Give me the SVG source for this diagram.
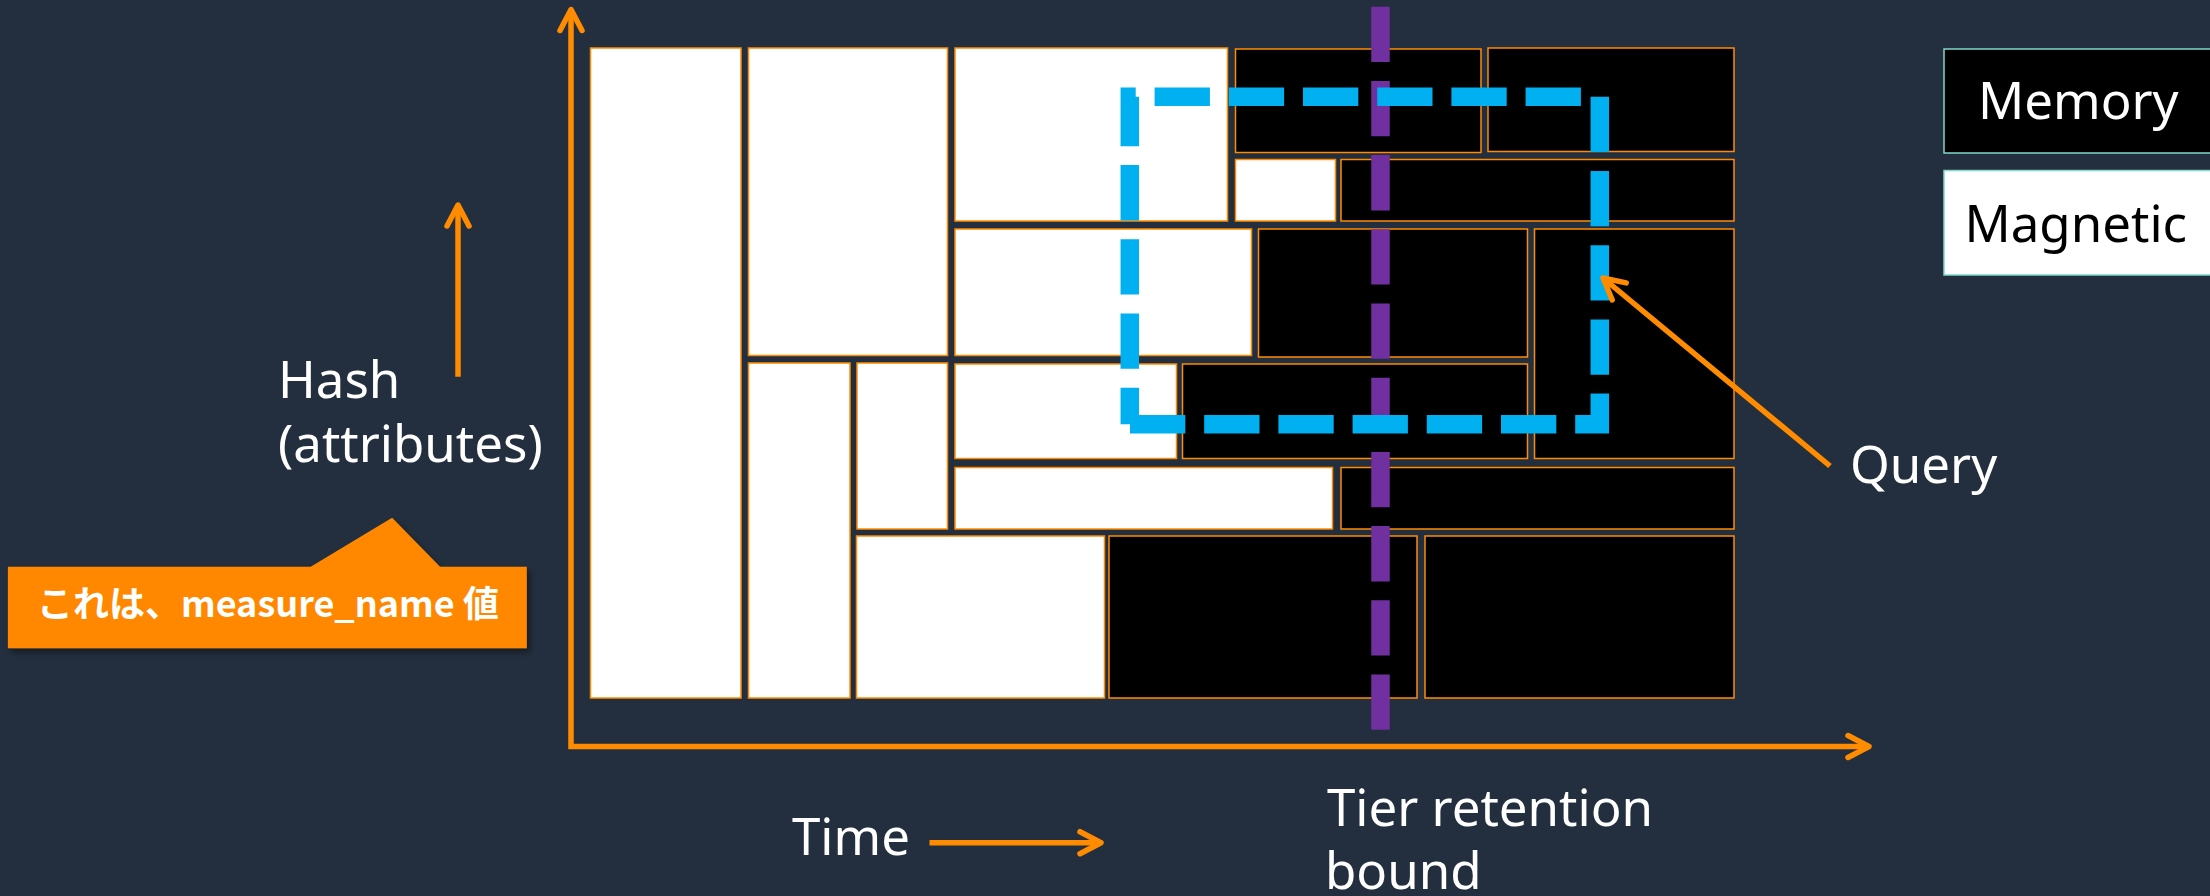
<svg xmlns="http://www.w3.org/2000/svg" width="2210" height="896" viewBox="0 0 2210 896">
  <defs>
    <style>
      .mag { fill: #FFFFFF; stroke: #FF8C00; stroke-width: 1.5; }
      .mem { fill: #000000; stroke: #FF8C00; stroke-width: 1.5; }
      .lbl { font-family: "Noto Sans", "Open Sans", sans-serif; font-size: 51px; fill: #FFFFFF; }
      .ax { fill: none; stroke: #FF8C00; stroke-width: 5.5; }
      .dash { fill: none; stroke-width: 18.5; stroke-dasharray: 55.3 18.9; stroke-linecap: butt; stroke-linejoin: miter; }
      .legend { stroke: #7FD8C9; stroke-width: 1.5; }
    </style>
    <marker id="chev" markerUnits="userSpaceOnUse" viewBox="-30 -20 40 40" markerWidth="40" markerHeight="40" refX="0" refY="0" orient="auto-start-reverse" overflow="visible">
      <path d="M-21,-11 L0,0 L-21,11" fill="none" stroke="#FF8C00" stroke-width="5.5" stroke-linecap="round" stroke-linejoin="round"/>
    </marker>
    <filter id="shadow" x="-5%" y="-10%" width="115%" height="130%">
      <feDropShadow dx="3" dy="4" stdDeviation="3" flood-color="#000000" flood-opacity="0.45"/>
    </filter>
  </defs>

  <rect x="0" y="0" width="2210" height="896" fill="#232F3E"/>

  <g id="blocks">
    <rect class="mag" x="590.5" y="48" width="150.5" height="650"/>
    <rect class="mag" x="748.5" y="48" width="199" height="307.5"/>
    <rect class="mag" x="955" y="48" width="272.5" height="173"/>
    <rect class="mag" x="955" y="229" width="296.5" height="126.5"/>
    <rect class="mag" x="748.5" y="363" width="101.5" height="335"/>
    <rect class="mag" x="857" y="363" width="90.5" height="166"/>
    <rect class="mag" x="955" y="364" width="221.5" height="94.5"/>
    <rect class="mag" x="955" y="467.5" width="377.5" height="61.5"/>
    <rect class="mag" x="856.5" y="536" width="248" height="162"/>
    <rect class="mag" x="1235.5" y="159.5" width="100" height="61.5"/>

    <rect class="mem" x="1235.5" y="49" width="245.5" height="103.5"/>
    <rect class="mem" x="1488" y="48" width="246" height="103.5"/>
    <rect class="mem" x="1341" y="159.5" width="393" height="61.5"/>
    <rect class="mem" x="1258.5" y="229" width="269" height="128"/>
    <rect class="mem" x="1534.5" y="229" width="199.5" height="229.5"/>
    <rect class="mem" x="1182.5" y="364" width="345" height="94.5"/>
    <rect class="mem" x="1341" y="467.5" width="393" height="61.5"/>
    <rect class="mem" x="1109" y="536" width="308" height="162"/>
    <rect class="mem" x="1425" y="536" width="309" height="162"/>
  </g>

  <g id="legend-memory">
    <rect class="legend" x="1944" y="49" width="285" height="104" fill="#000000"/>
    <text class="lbl" x="1978" y="119.3">Memory</text>
  </g>
  <g id="legend-magnetic">
    <rect class="legend" x="1944" y="170.5" width="285" height="104.5" fill="#FFFFFF"/>
    <text class="lbl" x="1964.5" y="241.7" style="fill:#000000">Magnetic</text>
  </g>

  <g id="tier-bound">
    <line class="dash" x1="1380.5" y1="6.7" x2="1380.5" y2="730.7" stroke="#7030A0"/>
  </g>

  <g id="query-region">
    <path class="dash" d="M1130,424.3 H1599.8 V96.8 H1129.8 V424.3" stroke="#00B0F0"/>
  </g>

  <g id="connectors">
    <path class="ax" d="M571,9.5 V746.5 H1869" marker-start="url(#chev)" marker-end="url(#chev)"/>
    <line class="ax" x1="458" y1="376.7" x2="458" y2="205" marker-end="url(#chev)"/>
    <line class="ax" x1="929.5" y1="842.7" x2="1101" y2="842.7" marker-end="url(#chev)"/>
    <line class="ax" x1="1830" y1="466" x2="1603" y2="278" marker-end="url(#chev)"/>
  </g>

  <g id="hash-label">
    <text class="lbl" x="278" y="398">Hash</text>
    <text class="lbl" x="278" y="461.7">(attributes)</text>
  </g>

  <g id="callout">
    <path d="M7.9,566.7 H310.7 L392.1,517.7 L440,566.7 H526.8 V648.3 H7.9 Z" fill="#FF8800" filter="url(#shadow)"/>
    <text x="37" y="617" style="font-family:'Noto Sans CJK JP','Noto Sans',sans-serif;font-size:36px;font-weight:bold;fill:#FFFFFF">これは、measure_name 値</text>
  </g>

  <g id="query-label">
    <text class="lbl" x="1850" y="483.3">Query</text>
  </g>
  <g id="time-label">
    <text class="lbl" x="792" y="855">Time</text>
  </g>
  <g id="tier-label">
    <text class="lbl" x="1327" y="826">Tier retention</text>
    <text class="lbl" x="1325" y="889">bound</text>
  </g>
</svg>
